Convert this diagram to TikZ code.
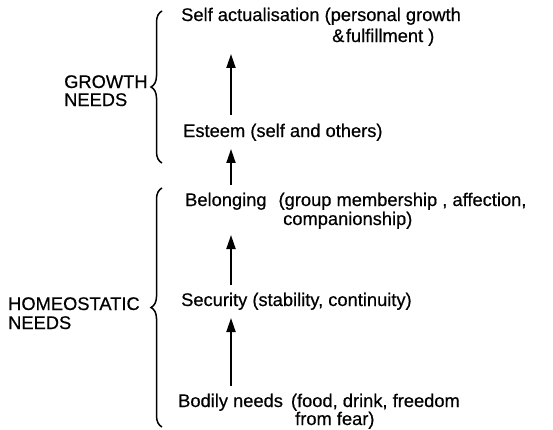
\documentclass[tikz,border=0pt]{standalone}
\usepackage{fontspec}
\setmainfont{Liberation Sans}
\newfontfamily\lblfont[FakeBold=0.5]{Liberation Sans}
\usetikzlibrary{arrows.meta,decorations.pathreplacing}
\begin{document}
\begin{tikzpicture}[x=1pt,y=-1pt,
  lbl/.style={anchor=base west,inner sep=0pt,font=\lblfont\fontsize{18.3}{22}\selectfont},
  arr/.style={line width=1.9pt,-{Triangle[length=14pt,width=9pt]}},
  brc/.style={line width=1.5pt,decorate,decoration={brace,amplitude=11pt,aspect=0.5}}]
\useasboundingbox (0,0) rectangle (553,429);
\node[lbl] (sa)  at (181,21) {Self actualisation (personal growth};
\node[lbl] (sa2) at (332,42) {\&\hspace{1.5pt}fulfillment )};
\node[lbl] (es)  at (183,137) {Esteem (self and others)};
\node[lbl] (be)  at (185,206) {Belonging\hspace{12pt}(group membership , affection,};
\node[lbl] (be2) at (283,225) {companionship)};
\node[lbl] (se)  at (181,306) {Security (stability, continuity)};
\node[lbl] (bo)  at (178,407) {Bodily needs\hspace{8pt}(food, drink, freedom};
\node[lbl] (bo2) at (295,425) {from fear)};
\node[lbl] (gr)  at (64,88) {GROWTH};
\node[lbl] (gr2) at (64,106) {NEEDS};
\node[lbl] (ho)  at (8,310) {HOMEOSTATIC};
\node[lbl] (ho2) at (8,329) {NEEDS};
\coordinate (ax) at (231,0);
\draw[arr] ([yshift=9pt]es.north -| ax) -- ([yshift=-8pt]sa2.south -| ax);
\draw[arr] ([yshift=8pt]be.north -| ax) -- ([yshift=-8pt]es.south -| ax);
\draw[arr] ([yshift=8pt]se.north -| ax) -- ([yshift=-6pt]be2.south -| ax);
\draw[arr] ([yshift=8pt]bo.north -| ax) -- ([yshift=-8pt]se.south -| ax);
\draw[brc] (162,163) -- (162,11);
\draw[brc] (162,427) -- (162,188);
\end{tikzpicture}
\end{document}
